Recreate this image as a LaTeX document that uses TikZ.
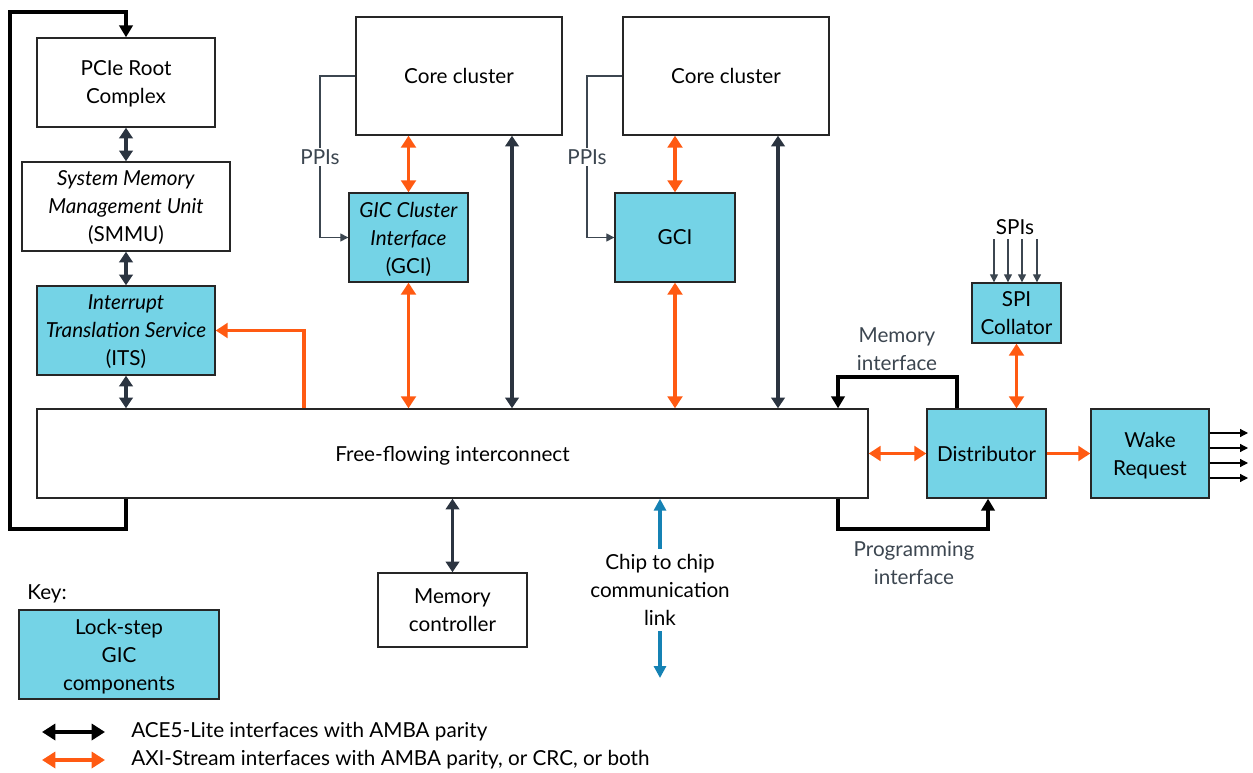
\documentclass[tikz,border=0pt]{standalone}
\usepackage{fontspec}
\setmainfont{Lato}
\usetikzlibrary{arrows.meta}

\definecolor{gicblue}{HTML}{74D3E6}
\definecolor{axiorange}{HTML}{FF5A12}
\definecolor{aceslate}{HTML}{2B3440}
\definecolor{linkblue}{HTML}{1582B4}
\definecolor{labelgrey}{HTML}{3C4650}

\tikzset{
block/.style={draw=black!85,line width=1pt,align=center,inner sep=0pt,text depth=0pt},
gic/.style={block,fill=gicblue},
sz/.style 2 args={minimum width=#1*0.75pt,minimum height=#2*0.75pt},
ace/.style={draw=aceslate,line width=2.6pt,>={Triangle[width=10pt,length=8pt]}},
axi/.style={draw=axiorange,line width=2.8pt,>={Triangle[width=11pt,length=9pt]}},
loopline/.style={draw=black,line width=3pt,>={Triangle[width=10pt,length=9pt]}},
ppi/.style={draw=labelgrey,line width=0.9pt,>={Triangle[width=6pt,length=6pt]}},
c2c/.style={draw=linkblue,line width=2.4pt,>={Triangle[width=9pt,length=9pt]}},
greylabel/.style={text=labelgrey,align=center}}

\begin{document}
\begin{tikzpicture}
  [x=0.75pt,y=-0.75pt,
   every node/.style={font=\fontsize{15.5}{21}\selectfont}]
  \useasboundingbox (0,0) rectangle (1253,773);

  % left column
  \node[block,sz={178}{89}] (pcie) at (126,82.5) {PCIe Root\\Complex};
  \node[block,sz={208}{89}] (smmu) at (126,206.5) {\textit{System Memory}\\\textit{Management Unit}\\(SMMU)};
  \node[gic,sz={178}{89}] (its) at (126,330.5) {\textit{Interrupt}\\\textit{Translation Service}\\(ITS)};
  \node[block,sz={831}{89}] (ic) at (452.5,453.5) {Free-flowing interconnect};

  % clusters
  \node[block,sz={206}{118}] (core1) at (459,76) {Core cluster};
  \node[block,sz={206}{118}] (core2) at (726,76) {Core cluster};
  \node[gic,sz={119}{89}] (gci1) at (408.5,237.5) {\textit{GIC Cluster}\\\textit{Interface}\\(GCI)};
  \node[gic,sz={120}{89}] (gci2) at (675,237.5) {GCI};

  % right side
  \node (spis) at (1015,227) {SPIs};
  \node[gic,sz={89}{60}] (spic) at (1016.5,313) {SPI\\Collator};
  \node[gic,sz={119}{89}] (dist) at (986.5,453.5) {Distributor};
  \node[gic,sz={118}{89}] (wake) at (1150,453.5) {Wake\\Request};
  \node[greylabel] (memif) at (897,349) {Memory\\interface};
  \node[greylabel] (progif) at (914,563) {Programming\\interface};

  % bottom
  \node[block,sz={149}{74}] (memc) at (452.5,610) {Memory\\controller};
  \node[align=center,inner sep=4pt] (link) at (660,590) {Chip to chip\\communication\\link};
  \coordinate (linkend) at (660,678);

  % key
  \node (key) at (47,594) {Key:};
  \node[gic,sz={200}{89}] (keybox) at (119,654.5) {Lock-step\\GIC\\components};
  \node[anchor=west,inner sep=0pt] (keyace) at (131,732) {ACE5-Lite interfaces with AMBA parity};
  \node[anchor=west,inner sep=0pt] (keyaxi) at (131,760) {AXI-Stream interfaces with AMBA parity, or CRC, or both};
  \coordinate (keyace0) at (42,732);
  \coordinate (keyaxi0) at (42,760);

  % connectors
  \draw[ace,<->] (pcie.south) -- (smmu.north);
  \draw[ace,<->] (smmu.south) -- (its.north);
  \draw[ace,<->] (its.south) -- (ic.north -| its.south);
  \draw[loopline,->] (ic.south -| its.south) -- ++(0,30) -| (10,12) -| (pcie.north);
  \draw[axi,->] (ic.north -| 304,0) |- (its.east);

  \draw[axi,<->] (gci1.north) -- (core1.south -| gci1.north);
  \draw[axi,<->] (gci1.south) -- (ic.north -| gci1.south);
  \draw[ace,<->] (core1.south -| 512,0) -- (ic.north -| 512,0);
  \draw[axi,<->] (gci2.north) -- (core2.south -| gci2.north);
  \draw[axi,<->] (gci2.south) -- (ic.north -| gci2.south);
  \draw[ace,<->] (core2.south -| 778,0) -- (ic.north -| 778,0);

  \draw[ppi,->] (core1.west) -| node[pos=0.75,fill=white,text=labelgrey,inner sep=1pt] {PPIs} (gci1.west -| 320,0) -- (gci1.west);
  \draw[ppi,->] (core2.west) -| node[pos=0.75,fill=white,text=labelgrey,inner sep=1pt] {PPIs} (gci2.west -| 587,0) -- (gci2.west);

  \foreach \x in {994,1008,1022,1037}
    \draw[ppi,->] (spis.south -| \x,0) -- (spic.north -| \x,0);
  \draw[axi,<->] (spic.south) -- (dist.north -| spic.south);
  \draw[axi,<->] (ic.east) -- (dist.west);
  \draw[axi,->] (dist.east) -- (wake.west);
  \foreach \y [count=\i] in {433,448,463,478} {
    \coordinate (out\i) at (1248,\y);
    \draw[ppi,draw=black,->] (wake.east |- out\i) -- (out\i);
  }
  \draw[loopline,->] (dist.north -| 957,0) -- ++(0,-31) -| (ic.north -| 838,0);
  \draw[loopline,->] (ic.south -| 838,0) -- ++(0,30) -| (dist.south -| 988,0);

  \draw[ace,<->] (memc.north) -- (ic.south -| memc.north);
  \draw[c2c,->] (link.north) -- (ic.south -| link.north);
  \draw[c2c,->] (link.south) -- (linkend);

  \draw[loopline,draw=black,<->,>={Triangle[width=12pt,length=10pt]}] (keyace0) -- ++(63,0);
  \draw[axi,<->,>={Triangle[width=12pt,length=10pt]}] (keyaxi0) -- ++(63,0);
\end{tikzpicture}
\end{document}
